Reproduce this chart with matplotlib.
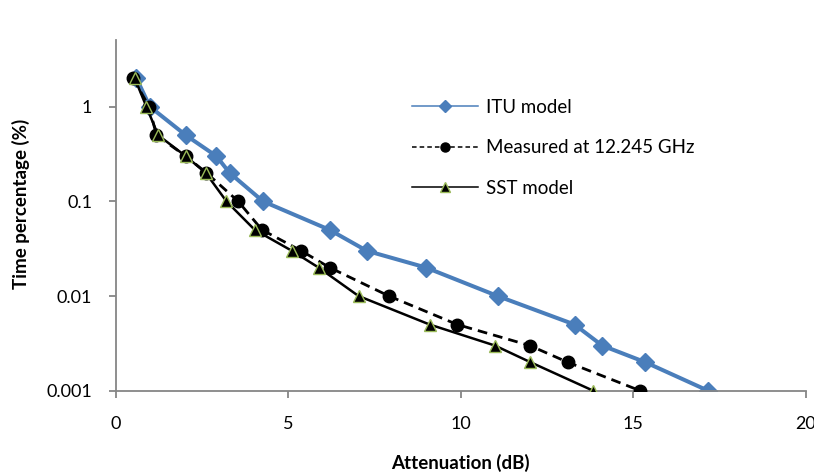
import matplotlib
matplotlib.use("Agg")
import matplotlib.pyplot as plt
from matplotlib.lines import Line2D

plt.rcParams['font.family'] = ['Lato', 'DejaVu Sans']

itu_x = [0.6, 0.99, 2.03, 2.92, 3.3, 4.27, 6.2, 7.28, 8.99, 11.07, 13.3, 14.1, 15.35, 17.17]
itu_y = [2, 1, 0.5, 0.3, 0.2, 0.1, 0.05, 0.03, 0.02, 0.01, 0.005, 0.003, 0.002, 0.001]

meas_x = [0.5, 0.97, 1.18, 2.03, 2.63, 3.55, 4.24, 5.38, 6.2, 7.92, 9.9, 12.0, 13.1, 15.2]
meas_y = [2, 1, 0.5, 0.3, 0.2, 0.1, 0.05, 0.03, 0.02, 0.01, 0.005, 0.003, 0.002, 0.001]

sst_x = [0.55, 0.89, 1.23, 2.03, 2.61, 3.21, 4.03, 5.11, 5.88, 7.04, 9.1, 10.99, 12.02, 13.84]
sst_y = [2, 1, 0.5, 0.3, 0.2, 0.1, 0.05, 0.03, 0.02, 0.01, 0.005, 0.003, 0.002, 0.001]

series_labels = ['ITU model', 'Measured at 12.245 GHz', 'SST model']
x_ticks = [0, 5, 10, 15, 20]
y_ticks = [0.001, 0.01, 0.1, 1]
y_tick_labels = ['0.001', '0.01', '0.1', '1']

BLUE = '#4A7EBB'
GREEN = '#9BBB59'

fig = plt.figure(figsize=(8.14, 4.76), dpi=100)
ax = fig.add_axes([115.7 / 814, 85.3 / 476, 690 / 814, 350.7 / 476])

ax.plot(itu_x, itu_y, color=BLUE, lw=2.9, marker='D', ms=9,
        mfc=BLUE, mec=BLUE, zorder=2)
ax.plot(meas_x, meas_y, color='black', lw=2.0, ls=(0, (3.5, 2.2)), marker='o', ms=9,
        mfc='black', mec='black', zorder=3)
ax.plot(sst_x, sst_y, color='black', lw=1.8, marker='^', ms=8.5,
        mfc='black', mec=GREEN, mew=1, zorder=4)

ax.set_yscale('log')
ax.set_xlim(0, 20)
ax.set_ylim(0.001, 5.06)
ax.set_xticks(x_ticks)
ax.set_xticklabels([str(t) for t in x_ticks])
ax.set_yticks(y_ticks)
ax.set_yticklabels(y_tick_labels)
ax.yaxis.set_minor_locator(matplotlib.ticker.NullLocator())

for s in ['top', 'right']:
    ax.spines[s].set_visible(False)
for s in ['left', 'bottom']:
    ax.spines[s].set_color('#868686')
    ax.spines[s].set_linewidth(1.3)
ax.tick_params(axis='both', which='major', direction='out', length=5, width=1.3,
               color='#868686', labelsize=13, labelcolor='black')
ax.tick_params(axis='x', pad=13)
ax.tick_params(axis='y', pad=12)

fig.text(460 / 814, 1 - 463 / 476, 'Attenuation (dB)', fontsize=13.5, fontweight='bold',
         ha='center', va='center')
fig.text(20.8 / 814, 1 - 204 / 476, 'Time percentage (%)', fontsize=13.5, fontweight='bold',
         ha='center', va='center', rotation=90)

handles = [
    Line2D([], [], color=BLUE, lw=1.1, marker='D', ms=6, mfc=BLUE, mec=BLUE),
    Line2D([], [], color='black', lw=1.1, ls=(0, (3, 2)), marker='o', ms=6.5, mfc='black', mec='black'),
    Line2D([], [], color='black', lw=1.1, marker='^', ms=6.5, mfc='black', mec=GREEN, mew=1),
]
leg = ax.legend(handles, series_labels, loc='upper left',
                bbox_to_anchor=((412 - 115.7) / 690, (390.7 - 99) / 350.7),
                frameon=False, fontsize=13.5, handlelength=3.5, handletextpad=0.45,
                labelspacing=1.24, borderpad=0, borderaxespad=0)

fig.savefig('out.png', dpi=100)
